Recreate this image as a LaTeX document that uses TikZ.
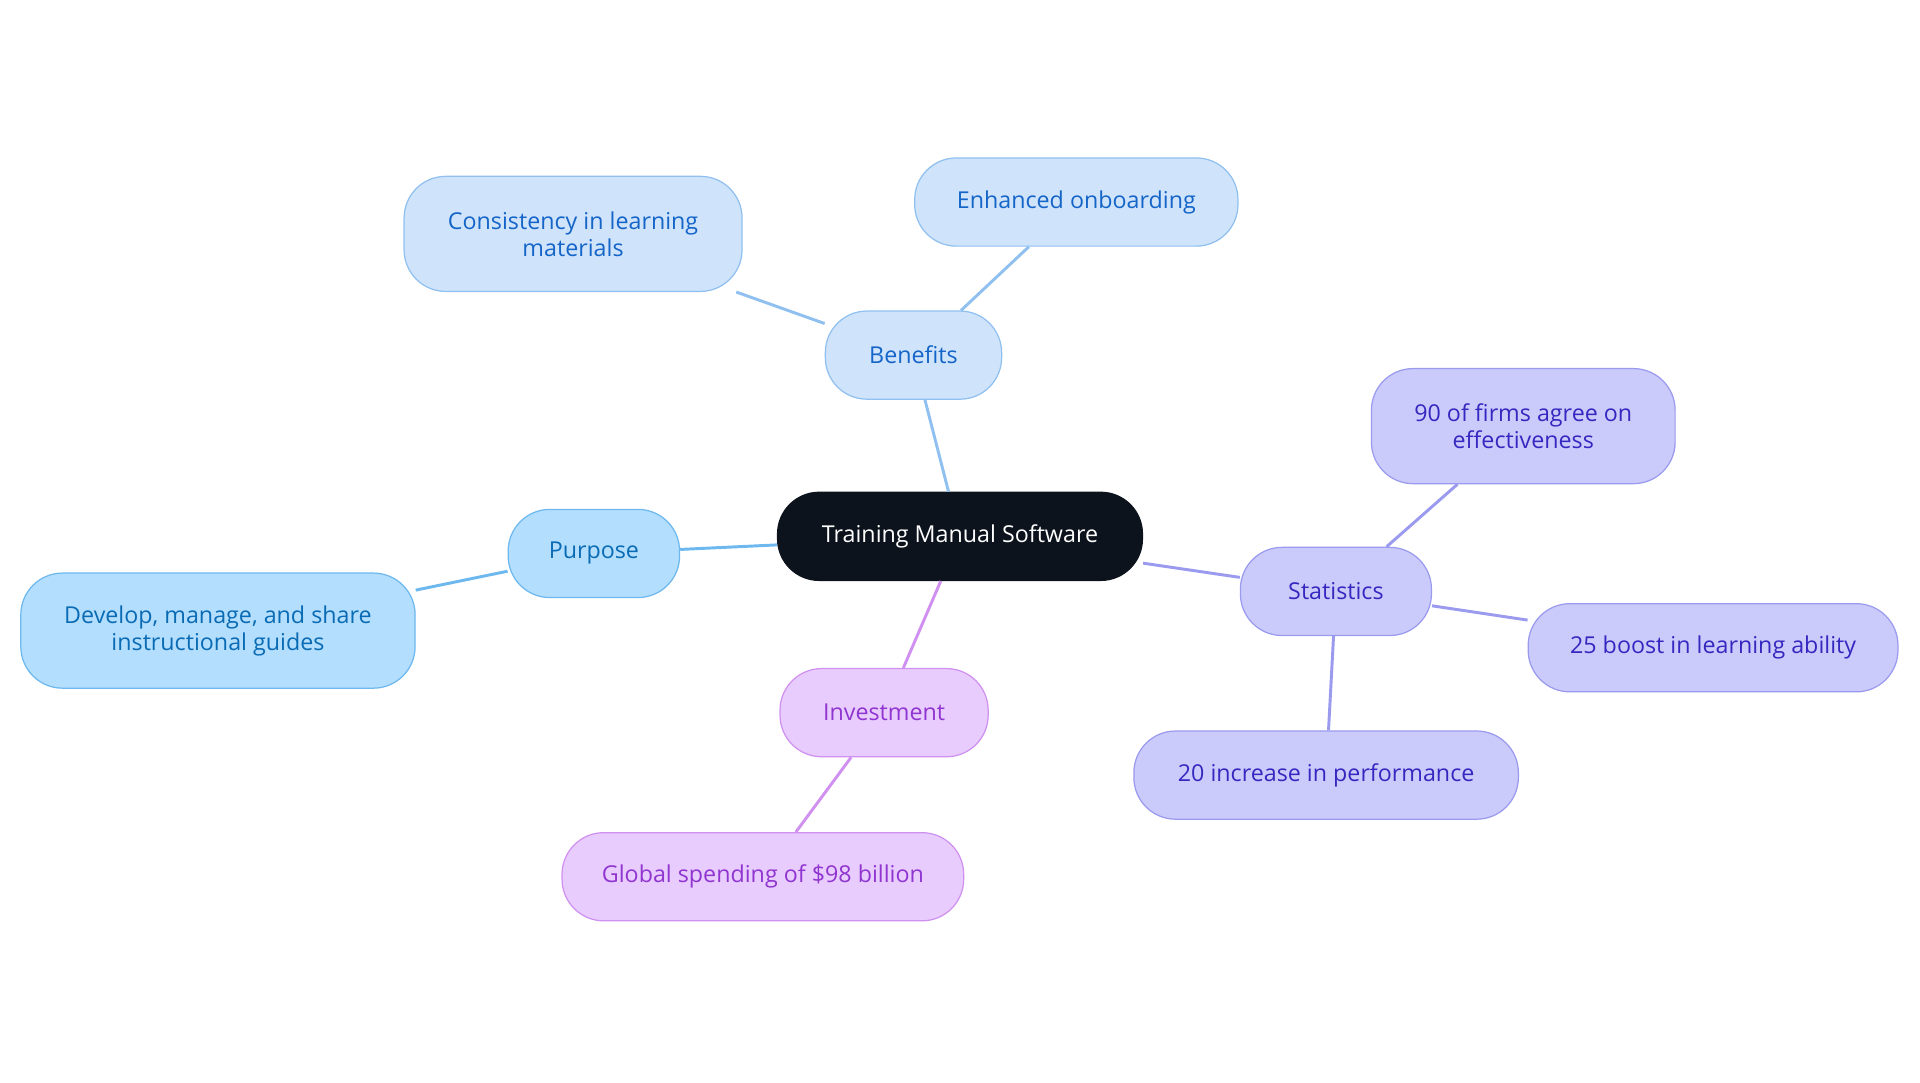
\documentclass[tikz,border=0pt]{standalone}
\usepackage{fontspec}
\setmainfont{Open Sans}
\definecolor{cfill}{HTML}{0D131C}
\definecolor{bfill}{HTML}{CFE3FB}\definecolor{bdraw}{HTML}{90C0F0}\definecolor{btext}{HTML}{1565C8}
\definecolor{pfill}{HTML}{B3DEFD}\definecolor{pdraw}{HTML}{6DB8EE}\definecolor{ptext}{HTML}{0A6BB5}
\definecolor{ifill}{HTML}{E8CCFD}\definecolor{idraw}{HTML}{CF90F0}\definecolor{itext}{HTML}{9035D0}
\definecolor{sfill}{HTML}{CBCBFB}\definecolor{sdraw}{HTML}{9A9AEE}\definecolor{stext}{HTML}{3528C0}
\tikzset{
  box/.style={rounded corners=17pt,align=center,inner sep=0pt,font=\fontsize{9.5}{11}\selectfont,line width=0.5pt},
  bbox/.style={box,fill=bfill,draw=bdraw,text=btext},
  pbox/.style={box,fill=pfill,draw=pdraw,text=ptext},
  ibox/.style={box,fill=ifill,draw=idraw,text=itext},
  sbox/.style={box,fill=sfill,draw=sdraw,text=stext},
  link/.style={line width=1.2pt},
}
\begin{document}
\begin{tikzpicture}[x=0.5pt,y=-0.5pt]
\useasboundingbox (0,0) rectangle (1568,884);
\node[box,fill=cfill,draw=cfill,text=white,minimum width=149pt,minimum height=36pt] (c) at (784,438) {Training Manual Software};
\node[bbox,minimum width=72pt,minimum height=36pt] (b) at (746,290) {Benefits};
\node[bbox,minimum width=138pt,minimum height=47pt] (b1) at (468,191) {Consistency in learning\\materials};
\node[bbox,minimum width=132pt,minimum height=36pt] (b2) at (879,165) {Enhanced onboarding};
\node[pbox,minimum width=70pt,minimum height=36pt] (p) at (485,452) {Purpose};
\node[pbox,minimum width=161pt,minimum height=47pt] (p1) at (178,515) {Develop, manage, and share\\instructional guides};
\node[ibox,minimum width=85pt,minimum height=36pt] (i) at (722,582) {Investment};
\node[ibox,minimum width=164pt,minimum height=36pt] (i1) at (623,716) {Global spending of \$98 billion};
\node[sbox,minimum width=78pt,minimum height=36pt] (s) at (1091,483) {Statistics};
\node[sbox,minimum width=124pt,minimum height=47pt] (s1) at (1244,348) {90 of firms agree on\\effectiveness};
\node[sbox,minimum width=151pt,minimum height=36pt] (s2) at (1399,529) {25 boost in learning ability};
\node[sbox,minimum width=157pt,minimum height=36pt] (s3) at (1083,633) {20 increase in performance};
\draw[link,bdraw] (c) -- (b) (b) -- (b1) (b) -- (b2);
\draw[link,pdraw] (c) -- (p) (p) -- (p1);
\draw[link,idraw] (c) -- (i) (i) -- (i1);
\draw[link,sdraw] (c) -- (s) (s) -- (s1) (s) -- (s2) (s) -- (s3);
\end{tikzpicture}
\end{document}
